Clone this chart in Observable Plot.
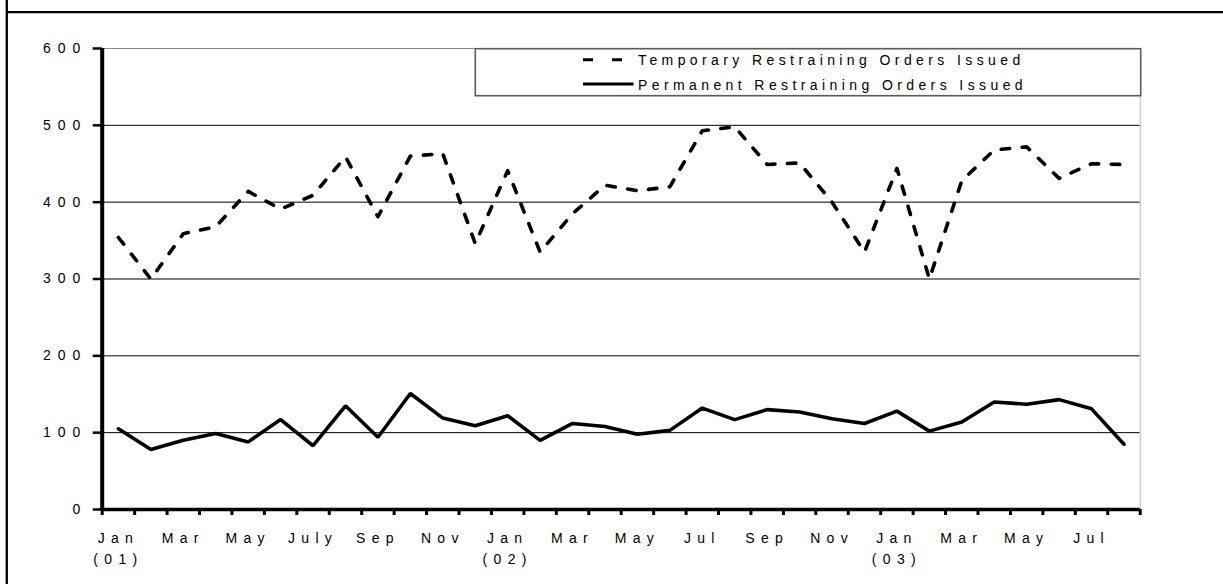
<!DOCTYPE html>
<html>
<head>
<meta charset="utf-8">
<script src="https://cdn.jsdelivr.net/npm/d3@7"></script>
<script src="https://cdn.jsdelivr.net/npm/@observablehq/plot@0.6"></script>
<style>
  html, body { margin: 0; padding: 0; background: white; }
  #chart svg { display: block; }
</style>
</head>
<body>
<div id="chart"></div>
<script>
// ---- data ----
const months = [
  "Jan 2001","Feb 2001","Mar 2001","Apr 2001","May 2001","Jun 2001","Jul 2001","Aug 2001","Sep 2001","Oct 2001","Nov 2001","Dec 2001",
  "Jan 2002","Feb 2002","Mar 2002","Apr 2002","May 2002","Jun 2002","Jul 2002","Aug 2002","Sep 2002","Oct 2002","Nov 2002","Dec 2002",
  "Jan 2003","Feb 2003","Mar 2003","Apr 2003","May 2003","Jun 2003","Jul 2003","Aug 2003"
];
const temporary = [354,300,359,368,414,391,409,459,381,460,463,346,441,335,385,422,415,420,493,498,449,451,400,335,444,300,428,468,472,431,450,449];
const permanent = [105,78,90,99,88,117,83,135,94,151,119,109,122,90,112,108,98,103,132,117,130,127,118,112,128,102,114,140,137,143,131,85];
const xTickLabels = ["Jan\n(01)","","Mar","","May","","July","","Sep","","Nov","",
                     "Jan\n(02)","","Mar","","May","","Jul","","Sep","","Nov","",
                     "Jan\n(03)","","Mar","","May","","Jul",""];
const yTicks = [0,100,200,300,400,500,600];
const seriesNames = ["Temporary Restraining Orders Issued", "Permanent Restraining Orders Issued"];

// ---- tables built from the arrays ----
const rows = months.map((m, i) => ({i, month: m, temporary: temporary[i], permanent: permanent[i]}));
const labelRows = xTickLabels.map((label, i) => ({i, label})).filter(d => d.label !== "");
const boundaries = months.map((m, i) => i - 0.5).concat([months.length - 0.5]);
const n = months.length;

const W = 1223, H = 584;
const mL = 101.7, mR = 83.3, mT = 48, mB = 75;
const pxPerX = (W - mL - mR) / n;
const pxPerY = (H - mT - mB) / 600;

const font = "'Liberation Sans', Arial, Helvetica, sans-serif";

const svg = Plot.plot({
  width: W, height: H,
  marginLeft: mL, marginRight: mR, marginTop: mT, marginBottom: mB,
  x: {type: "linear", domain: [-0.5, n - 0.5], axis: null},
  y: {type: "linear", domain: [0, 600], axis: null},
  style: {fontFamily: font, fontSize: "14px", background: "white", color: "black", overflow: "visible"},
  marks: [
    // gridlines
    Plot.ruleY(yTicks.filter(d => d > 0 && d < 600), {x1: -0.5, x2: n - 0.5, stroke: "black", strokeWidth: 1}),
    Plot.ruleY([600], {x1: -0.5, x2: n - 0.5, stroke: "#8a8a8a", strokeWidth: 1}),
    Plot.ruleX([n - 0.5], {y1: 0, y2: 600, stroke: "#b4b4b4", strokeWidth: 1}),
    // series
    Plot.line(rows, {x: "i", y: "temporary", stroke: "black", strokeWidth: 3.6, strokeDasharray: "8.5,12.5"}),
    Plot.line(rows, {x: "i", y: "permanent", stroke: "black", strokeWidth: 3.6, strokeLinejoin: "miter"}),
    // axes lines
    Plot.ruleY([0], {x1: -0.5, x2: n - 0.5, stroke: "black", strokeWidth: 3.5}),
    Plot.ruleX([-0.5], {y1: 0, y2: 600, stroke: "black", strokeWidth: 4}),
    // y ticks
    Plot.ruleY(yTicks, {x1: -0.5 - 9 / pxPerX, x2: -0.5, stroke: "black", strokeWidth: 2.5}),
    // x ticks
    Plot.ruleX(boundaries, {y1: 0, y2: -6 / pxPerY, stroke: "black", strokeWidth: 3}),
    // y tick labels
    Plot.text(yTicks, {x: -0.5, y: d => d, text: d => String(d), textAnchor: "end", dx: -14.8, fontSize: 14, fill: "black"}),
    // x tick labels
    Plot.text(labelRows, {x: "i", y: 0, text: "label", lineAnchor: "top", dy: 18.5, lineHeight: 1.5, fontSize: 14, fill: "black"})
  ]
});

document.getElementById("chart").appendChild(svg);

const s = d3.select(svg);
// font size and letter spacing for the axis labels (numbers: y axis, words: x axis)
s.selectAll("text").each(function () {
  const isNum = /^\d+$/.test(this.textContent.trim());
  d3.select(this)
    .style("font-size", "14px")
    .style("font-family", font)
    .style("letter-spacing", isNum ? "7px" : "6.3px");
});

// outer frame lines
s.append("line").attr("x1", 6.8).attr("x2", 6.8).attr("y1", 0).attr("y2", H)
  .attr("stroke", "black").attr("stroke-width", 2.3);
s.append("line").attr("x1", 6.8).attr("x2", W).attr("y1", 12.2).attr("y2", 12.2)
  .attr("stroke", "black").attr("stroke-width", 2.3);

// legend
const lg = s.append("g").attr("aria-label", "legend").attr("text-anchor", "start");
lg.append("rect").attr("x", 475.3).attr("y", 48.7).attr("width", 1140.7 - 475.3).attr("height", 95.7 - 48.7)
  .attr("fill", "white").attr("stroke", "#5a5a5a").attr("stroke-width", 1.6);
const legendRows = [
  {name: seriesNames[0], dash: "10,19", ly: 59.7, ty: 64.6, x2: 631},
  {name: seriesNames[1], dash: null, ly: 84, ty: 90.2, x2: 633.5}
];
legendRows.forEach(r => {
  const l = lg.append("line").attr("x1", 583).attr("x2", r.x2).attr("y1", r.ly).attr("y2", r.ly)
    .attr("stroke", "black").attr("stroke-width", 3);
  if (r.dash) l.attr("stroke-dasharray", r.dash);
  lg.append("text").attr("x", 638).attr("y", r.ty).text(r.name)
    .attr("text-anchor", "start")
    .style("font-family", font).style("font-size", "14px").attr("fill", "black")
    .style("letter-spacing", "4.4px");
});
</script>
</body>
</html>
